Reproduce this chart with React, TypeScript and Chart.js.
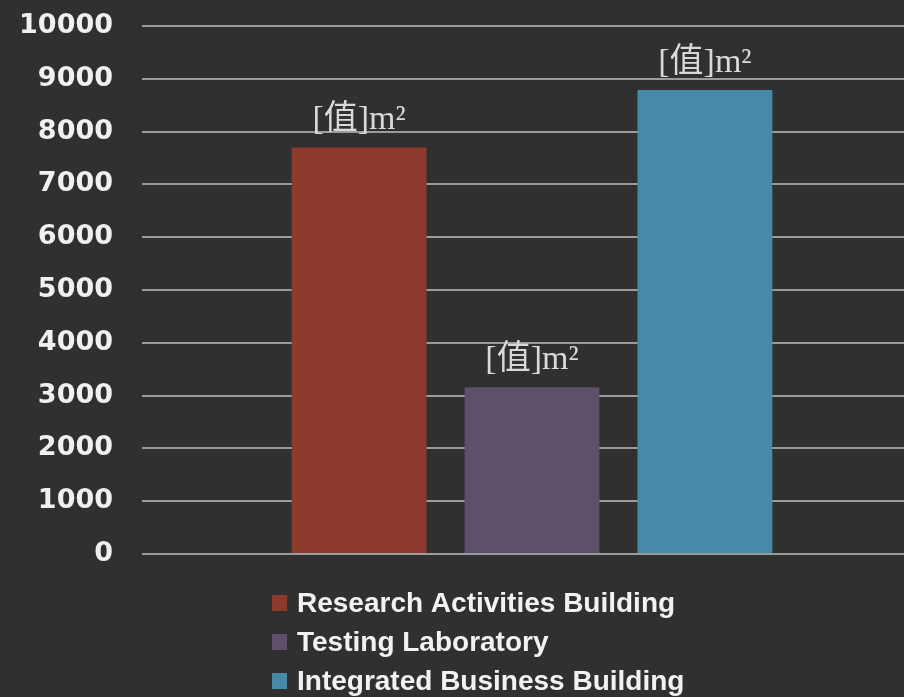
import React, { useEffect, useRef } from "react";
import { Chart, registerables } from "chart.js";

Chart.register(...registerables);

const categories: string[] = [""];
const seriesNames: string[] = [
  "Research Activities Building",
  "Testing Laboratory",
  "Integrated Business Building",
];
const researchValues: number[] = [7700];
const testingValues: number[] = [3160];
const integratedValues: number[] = [8790];
const seriesColors: string[] = ["#8c3a2b", "#5e4f6b", "#478aa8"];
const dataLabelText = "[值]m²";
const yMin = 0;
const yMax = 10000;
const yStep = 1000;

const BG = "#303030";

const dataLabelPlugin = {
  id: "dataLabels",
  afterDatasetsDraw(chart: any) {
    const ctx = chart.ctx;
    ctx.save();
    ctx.font = '34px "Liberation Serif", "Noto Sans CJK SC", serif';
    ctx.fillStyle = "#d9d9d9";
    ctx.textAlign = "center";
    ctx.textBaseline = "bottom";
    chart.data.datasets.forEach((_: any, i: number) => {
      const meta = chart.getDatasetMeta(i);
      meta.data.forEach((bar: any) => {
        ctx.fillText(dataLabelText, bar.x, bar.y - 10);
      });
    });
    ctx.restore();
  },
};

const legendPlugin = {
  id: "customLegend",
  afterDraw(chart: any) {
    const ctx = chart.ctx;
    ctx.save();
    ctx.font = 'bold 28px "Liberation Sans Narrow", "Liberation Sans", sans-serif';
    ctx.textAlign = "left";
    ctx.textBaseline = "middle";
    const startY = chart.chartArea.bottom + 49;
    const gap = 39;
    chart.data.datasets.forEach((ds: any, i: number) => {
      const cy = startY + i * gap;
      ctx.fillStyle = ds.backgroundColor;
      ctx.fillRect(272, cy - 8, 15, 16);
      ctx.fillStyle = "#f2f2f2";
      ctx.fillText(ds.label, 297, cy + 1);
    });
    ctx.restore();
  },
};

export default function App() {
  const canvasRef = useRef<HTMLCanvasElement | null>(null);

  useEffect(() => {
    const canvas = canvasRef.current;
    if (!canvas) return;
    const chart = new Chart(canvas, {
      type: "bar",
      data: {
        labels: categories,
        datasets: [
          { label: seriesNames[0], data: researchValues, backgroundColor: seriesColors[0] },
          { label: seriesNames[1], data: testingValues, backgroundColor: seriesColors[1] },
          { label: seriesNames[2], data: integratedValues, backgroundColor: seriesColors[2] },
        ],
      },
      options: {
        responsive: false,
        animation: false,
        devicePixelRatio: 1,
        layout: { padding: { top: 26, bottom: 143, left: 0, right: 0 } },
        datasets: {
          bar: { categoryPercentage: 0.665, barPercentage: 0.78 },
        },
        plugins: {
          legend: { display: false },
          tooltip: { enabled: false },
        },
        scales: {
          x: { display: false },
          y: {
            min: yMin,
            max: yMax,
            ticks: {
              stepSize: yStep,
              padding: 29,
              color: "#f0f0f0",
              font: { family: '"DejaVu Sans", sans-serif', size: 27, weight: "bold" },
              callback: (v: any) => String(v),
            },
            border: { display: false },
            grid: { color: "#9b9b9b", lineWidth: 2, drawTicks: false },
            afterFit(scale: any) {
              scale.width = 142;
              scale.paddingTop = 0;
              scale.paddingBottom = 0;
            },
          },
        },
      },
      plugins: [dataLabelPlugin, legendPlugin],
    } as any);
    return () => chart.destroy();
  }, []);

  return (
    <div
      style={{
        position: "absolute",
        left: 0,
        top: 0,
        width: 904,
        height: 697,
        overflow: "hidden",
        background: BG,
      }}
    >
      <canvas ref={canvasRef} width={922} height={697} style={{ display: "block" }} />
    </div>
  );
}
